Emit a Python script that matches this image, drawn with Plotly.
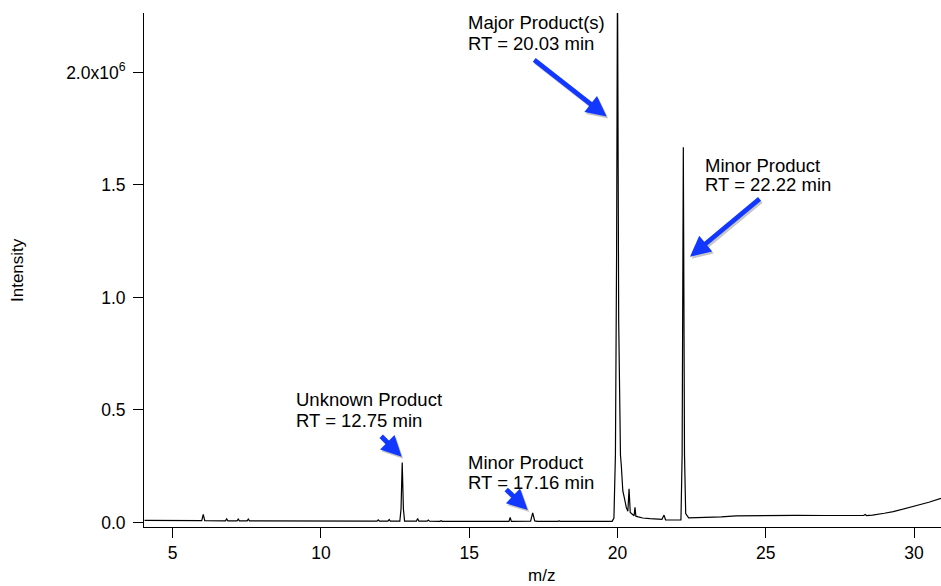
import plotly.graph_objects as go

# Retention time (min) and intensity (counts)
rt = [4.05, 5.0, 5.98, 6.03, 6.08, 6.78, 6.82, 6.86, 7.17, 7.21, 7.25, 7.51, 7.55, 7.59,
      8.0, 9.0, 10.0, 11.06, 11.1, 11.14, 11.89, 11.93, 11.97, 12.26, 12.3, 12.34,
      12.66, 12.70, 12.74, 12.78, 12.82, 13.22, 13.26, 13.30, 13.58, 13.62, 13.66,
      14.01, 14.05, 14.09, 14.86, 14.9, 14.94, 15.5, 16.34, 16.38, 16.42, 17.07, 17.14,
      17.21, 17.3, 17.99, 18.03, 18.07, 19.0, 19.82, 19.88, 19.93, 19.97, 20.0, 20.04,
      20.07, 20.1, 20.13, 20.18, 20.23, 20.3, 20.35, 20.39, 20.43, 20.5, 20.56, 20.59,
      20.62, 20.7, 20.85, 21.1, 21.5, 21.57, 21.62, 21.9, 22.14, 22.18, 22.22, 22.26,
      22.3, 22.4, 23.0, 23.5, 24.0, 25.0, 26.0, 27.0, 28.0, 28.3, 28.35, 28.4, 28.6,
      28.8, 29.0, 29.3, 29.6, 29.9, 30.2, 30.5, 30.91]
intensity_m = [0.009, 0.008, 0.008, 0.036, 0.008, 0.007, 0.016, 0.007, 0.007, 0.015, 0.007,
               0.007, 0.015, 0.007, 0.007, 0.007, 0.006, 0.006, 0.009, 0.006, 0.006, 0.012,
               0.006, 0.006, 0.013, 0.006, 0.006, 0.06, 0.266, 0.06, 0.006, 0.006, 0.018,
               0.006, 0.006, 0.011, 0.006, 0.005, 0.008, 0.005, 0.005, 0.007, 0.005, 0.005,
               0.005, 0.022, 0.005, 0.006, 0.043, 0.007, 0.005, 0.005, 0.007, 0.005, 0.005,
               0.005, 0.02, 0.3, 1.2, 2.45, 0.9, 0.4, 0.30, 0.25, 0.14, 0.11, 0.065, 0.05,
               0.15, 0.045, 0.038, 0.03, 0.068, 0.028, 0.025, 0.02, 0.017, 0.014, 0.033,
               0.012, 0.011, 0.012, 0.3, 1.668, 0.3, 0.04, 0.021, 0.022, 0.025, 0.029,
               0.031, 0.032, 0.031, 0.031, 0.031, 0.036, 0.031, 0.033, 0.036, 0.041,
               0.048, 0.058, 0.07, 0.08, 0.09, 0.107]
intensity = [v * 1e6 for v in intensity_m]

x_ticks = [5, 10, 15, 20, 25, 30]
y_tickvals = [0, 0.5e6, 1.0e6, 1.5e6, 2.0e6]
y_ticktext = ["0.0", "0.5", "1.0", "1.5", "2.0x10<sup>6</sup>"]

# Annotation labels: (line1, line2, x_left, y_line1, y_line2)
labels = [
    ("Major Product(s)", "RT = 20.03 min", 14.88, 2.221e6, 2.129e6),
    ("Minor Product", "RT = 22.22 min", 22.88, 1.586e6, 1.500e6),
    ("Unknown Product", "RT = 12.75 min", 9.08, 0.548e6, 0.455e6),
    ("Minor Product", "RT = 17.16 min", 14.88, 0.265e6, 0.178e6),
]
# Arrows: tip (x, y) in data, tail offset (ax, ay) in px
arrows = [
    (19.637, 1.8036e6, -74, -58),
    (22.447, 1.1813e6, 71, -59),
    (12.723, 0.2924e6, -22, -22),
    (16.973, 0.0556e6, -23, -22),
]

FONT = "Liberation Sans, Arial, sans-serif"
BLUE = "#1238ff"

fig = go.Figure()
fig.add_trace(go.Scatter(x=rt, y=intensity, mode="lines",
                         line=dict(color="black", width=1.2), hoverinfo="skip"))

annotations = []
for l1, l2, xl, y1, y2 in labels:
    for txt, yy in ((l1, y1), (l2, y2)):
        annotations.append(dict(x=xl, y=yy, xref="x", yref="y", text=txt, showarrow=False,
                                xanchor="left", yanchor="middle",
                                font=dict(family=FONT, size=18.5, color="black")))
for ax_, ay_, dx, dy in arrows:
    annotations.append(dict(x=ax_, y=ay_, xref="x", yref="y", text="", showarrow=True,
                            ax=dx, ay=dy, arrowhead=2, arrowsize=0.85, arrowwidth=4.8,
                            arrowcolor="rgba(0,0,0,0.22)", xshift=1.5, yshift=-2))
    annotations.append(dict(x=ax_, y=ay_, xref="x", yref="y", text="", showarrow=True,
                            ax=dx, ay=dy, arrowhead=2, arrowsize=0.85, arrowwidth=4.8,
                            arrowcolor=BLUE))
annotations.append(dict(x=(17 - 144) / 797, y=0.5, xref="paper", yref="paper",
                        text="Intensity", showarrow=False, textangle=-90,
                        xanchor="center", yanchor="middle",
                        font=dict(family=FONT, size=17, color="black")))
annotations.append(dict(x=0.4987, y=(527 - 575) / 514, xref="paper", yref="paper",
                        text="m/z", showarrow=False, xanchor="center", yanchor="middle",
                        font=dict(family=FONT, size=17, color="black")))

fig.update_layout(
    width=941, height=586,
    margin=dict(l=144, r=0, t=13, b=59),
    paper_bgcolor="white", plot_bgcolor="white",
    showlegend=False,
    annotations=annotations,
    xaxis=dict(range=[4.032, 30.91], tickvals=x_ticks, ticks="outside", ticklen=10,
               tickwidth=1, tickcolor="black", showline=True, linecolor="black",
               linewidth=1, showgrid=False, zeroline=False,
               tickfont=dict(family=FONT, size=17.5, color="black")),
    yaxis=dict(range=[-0.02e6, 2.264e6], tickvals=y_tickvals, ticktext=y_ticktext,
               ticks="outside", ticklen=10, tickwidth=1, tickcolor="black",
               ticklabelstandoff=4,
               showline=True, linecolor="black", linewidth=1, showgrid=False,
               zeroline=False, tickfont=dict(family=FONT, size=17.5, color="black")),
)

fig.write_html("out.html")
